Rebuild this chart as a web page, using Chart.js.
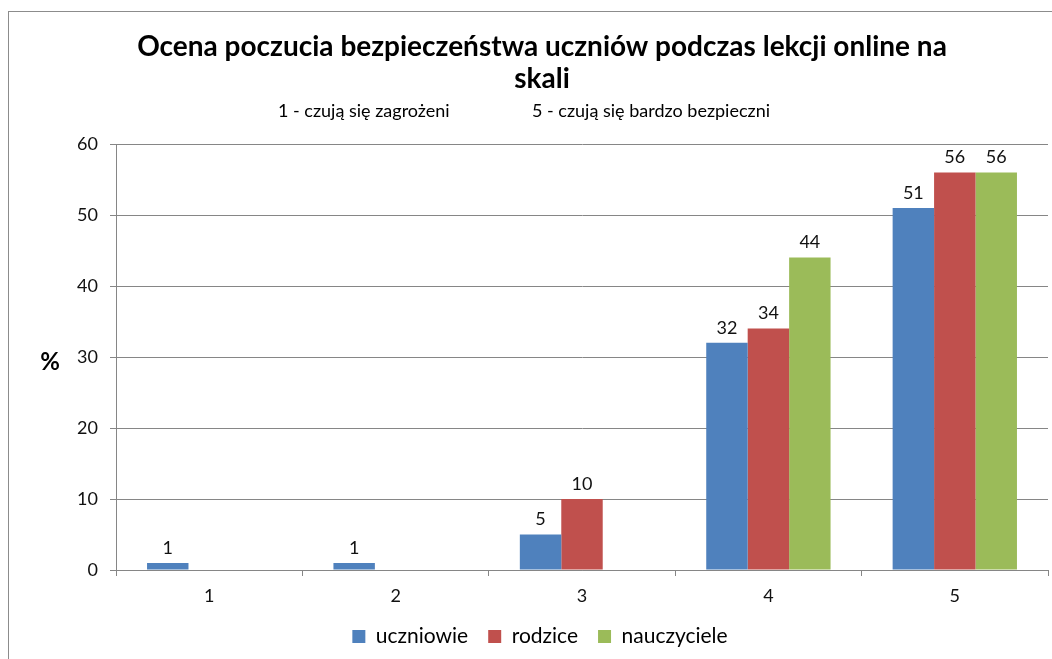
<!DOCTYPE html>
<html>
<head>
<meta charset="utf-8">
<script src="https://cdn.jsdelivr.net/npm/chart.js@4"></script>
<style>
  html, body { margin: 0; padding: 0; background: #fff; overflow: hidden; }
  #wrap { position: absolute; left: 0; top: 0; width: 1084px; height: 659px; }
</style>
</head>
<body>
<div id="wrap"><canvas id="safetyChart" width="1084" height="659"></canvas></div>
<script>
const categories = ['1', '2', '3', '4', '5'];
const uczniowie = [1, 1, 5, 32, 51];
const rodzice = [0, 0, 10, 34, 56];
const nauczyciele = [0, 0, 0, 44, 56];
const yTicks = [0, 10, 20, 30, 40, 50, 60];

const titleLines = ['Ocena poczucia bezpieczeństwa uczniów podczas lekcji online na', 'skali'];
const subtitleLeft = '1 - czują się zagrożeni';
const subtitleRight = '5 - czują się bardzo bezpieczni';

const FONT = 'Lato, "Open Sans", sans-serif';
const gridColor = '#868686';

// title, subtitle, % label, outer frame and value labels
const decorations = {
    id: 'decorations',
    afterDraw(chart) {
        const ctx = chart.ctx;
        ctx.save();
        ctx.strokeStyle = '#8c8c8c';
        ctx.lineWidth = 1;
        ctx.strokeRect(8.5, 11.5, 1200, 800);

        ctx.fillStyle = '#000';
        ctx.textAlign = 'center';
        ctx.textBaseline = 'middle';
        ctx.font = 'bold 28px ' + FONT;
        ctx.fillText(titleLines[0], 542, 47);
        ctx.fillText(titleLines[1], 542, 79);

        ctx.font = '18px ' + FONT;
        ctx.textAlign = 'left';
        ctx.fillText(subtitleLeft, 278, 111);
        ctx.fillText(subtitleRight, 532, 111);

        ctx.font = 'bold 24px ' + FONT;
        ctx.textAlign = 'center';
        ctx.fillText('%', 50, 362);

        ctx.font = '18px ' + FONT;
        ctx.fillStyle = '#111';
        ctx.textBaseline = 'bottom';
        chart.data.datasets.forEach((ds, i) => {
            chart.getDatasetMeta(i).data.forEach((bar, j) => {
                const v = ds.data[j];
                if (v > 0) ctx.fillText(String(v), bar.x, bar.y - 6);
            });
        });
        ctx.restore();
    }
};

const ctx = document.getElementById('safetyChart');
new Chart(ctx, {
    type: 'bar',
    data: {
        labels: categories,
        datasets: [
            { label: 'uczniowie', data: uczniowie, backgroundColor: '#4F81BD' },
            { label: 'rodzice', data: rodzice, backgroundColor: '#C0504D' },
            { label: 'nauczyciele', data: nauczyciele, backgroundColor: '#9BBB59' }
        ]
    },
    options: {
        responsive: false,
        animation: false,
        layout: { padding: { top: 144, right: 36, bottom: 2, left: 32 } },
        datasets: {
            bar: { barPercentage: 1, categoryPercentage: 0.667 }
        },
        scales: {
            x: {
                grid: { offset: true, drawOnChartArea: false, color: gridColor, tickLength: 6 },
                border: { color: gridColor },
                ticks: { color: '#111', font: { family: FONT, size: 18 }, padding: 9 },
                afterFit(scale) { scale.height = 36; }
            },
            y: {
                min: 0,
                max: 60,
                afterBuildTicks(scale) { scale.ticks = yTicks.map(v => ({ value: v })); },
                grid: { color: gridColor, tickLength: 6 },
                border: { color: gridColor },
                ticks: { color: '#111', font: { family: FONT, size: 18 }, padding: 12 },
                afterFit(scale) { scale.width = 84; }
            }
        },
        plugins: {
            legend: {
                position: 'bottom',
                labels: {
                    color: '#000',
                    font: { family: FONT, size: 21 },
                    boxWidth: 13,
                    boxHeight: 13,
                    padding: 20
                }
            },
            title: { display: false },
            tooltip: { enabled: false }
        }
    },
    plugins: [decorations]
});
</script>
</body>
</html>
